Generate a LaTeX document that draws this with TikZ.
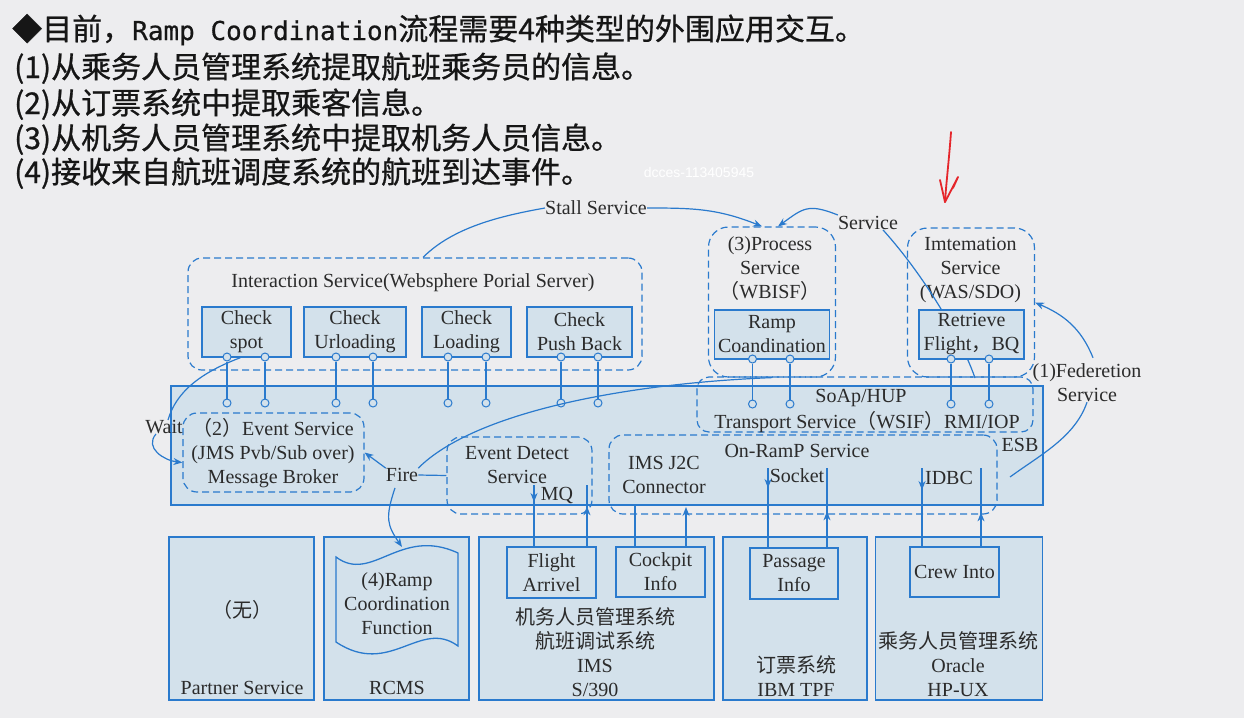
\documentclass[tikz,border=0pt]{standalone}
\usepackage{fontspec}
\setmainfont{Liberation Serif}
\newfontfamily\cjk{Noto Sans CJK SC}
\newfontfamily\cjkh{Noto Sans CJK SC}[FakeBold=0.8]
\newfontfamily\hmono{DejaVu Sans Mono}[FakeBold=0.6]
\newfontfamily\wmfont{Liberation Sans}
\usetikzlibrary{arrows.meta,decorations.markings}
\definecolor{bgc}{HTML}{EDEDEF}
\definecolor{fillc}{HTML}{D3E1EB}
\definecolor{linec}{HTML}{2A7ACD}
\definecolor{txt}{HTML}{2B2B2B}
\definecolor{hdr}{HTML}{161616}
\definecolor{redpen}{HTML}{E5262B}

\begin{document}
\begin{tikzpicture}[x=1pt,y=-1pt,
  every node/.style={text=txt, font=\fontsize{20}{24}\selectfont, inner sep=0pt, align=center},
  solidbox/.style={draw=linec, fill=fillc, line width=1.3pt},
  dashbox/.style={draw=linec, dash pattern=on 7pt off 4pt, line width=1.2pt, rounded corners=14pt},
  pinc/.style={circle, draw=linec, fill=fillc, line width=1pt, minimum size=8pt},
  conn/.style={color=linec, line width=1.2pt},
  arr/.style={conn, -{Stealth[length=9pt,width=7pt]}},
  tipat/.style={postaction={decorate, decoration={markings, mark=at position #1 with {\arrow{Stealth[length=9pt,width=7pt]}}}}},
  hdrline/.style={anchor=base west, text=hdr, font=\cjkh\fontsize{30}{34}\selectfont},
]
\useasboundingbox (0,0) rectangle (1244,718);
\fill[bgc] (0,0) rectangle (1244,718);

% heading lines
\node[hdrline] (h0) at (12,40) {◆目前，{\hmono\fontsize{26}{30}\selectfont Ramp Coordination}流程需要4种类型的外围应用交互。};
\node[hdrline] (h1) at (14,78) {(1)从乘务人员管理系统提取航班乘务员的信息。};
\node[hdrline] (h2) at (14,114) {(2)从订票系统中提取乘客信息。};
\node[hdrline] (h3) at (14,149) {(3)从机务人员管理系统中提取机务人员信息。};
\node[hdrline] (h4) at (14,183) {(4)接收来自航班调度系统的航班到达事件。};
\node[text=white, font=\wmfont\fontsize{14}{16}\selectfont] (wm) at (699,172) {dcces-113405945};

% hand-drawn red arrow
\draw[redpen, line width=1.8pt, line cap=round, line join=round] (951,132) .. controls (949,160) and (946,185) .. (945,202);
\draw[redpen, line width=1.8pt, line cap=round, line join=round] (940,180) -- (945,202) -- (958,177) -- (953,188);

% interaction service
\node[dashbox, minimum width=454pt, minimum height=112pt] (ints) at (415,314) {};
\node (intt) at (413,283) {Interaction Service(Websphere Porial Server)};

% ESB
\node[solidbox, minimum width=872pt, minimum height=119pt] (esb) at (607,445.5) {};
\node (esbl) at (1020,445) {ESB};

% dashed service groups inside / above the ESB
\node[dashbox, minimum width=336pt, minimum height=55pt, rounded corners=12pt] (soap) at (865,404.5) {};
\node (soapt) at (861,398) {SoAp/HUP};
\node (trans) at (867,422) {Transport Service{\cjk（}WSIF{\cjk）}RMI/IOP};

\node[dashbox, minimum width=181pt, minimum height=79pt] (evs) at (273.5,452.5) {};
\node (evst) at (273,453.5) {{\cjk（}2{\cjk）}Event Service\\(JMS Pvb/Sub over)\\Message Broker};

\node[dashbox, minimum width=145pt, minimum height=77pt] (evd) at (519.5,475.5) {};
\node (evdt) at (517,465) {Event Detect\\Service};
\node (mq) at (557,495) {MQ};

\node[dashbox, minimum width=388pt, minimum height=79pt] (onr) at (803,474.5) {};
\node (onrt) at (797,451) {On-RamP Service};
\node (j2c) at (664,475) {IMS J2C\\Connector};
\node (sock) at (797,476) {Socket};
\node (idbc) at (949,478) {IDBC};

% process and information services
\node[dashbox, minimum width=127pt, minimum height=150pt, rounded corners=20pt] (proc) at (772,302) {};
\node (proct) at (770,269) {(3)Process\\Service\\{\cjk（}WBISF{\cjk）}};
\node[dashbox, minimum width=127pt, minimum height=149pt, rounded corners=20pt] (imte) at (971,302.5) {};
\node (imtet) at (970.5,270) {Imtemation\\Service\\(WAS/SDO)};

% labels
\node (stall) at (596,208) {Stall Service};
\node (svc) at (868,223) {Service};
\node (fed) at (1087,383) {(1)Federetion\\Service};
\node (wait) at (164,427) {Wait};
\node (fire) at (402,475) {Fire};

\coordinate (svcend) at (975,378);
\draw[conn] ([xshift=15pt]svc.south) .. controls +(45,50) and +(-12,-35) .. (svcend);

% application boxes
\node[solidbox, minimum width=89pt, minimum height=50pt] (cspot) at (246.5,332) {Check\\spot};
\node[solidbox, minimum width=102pt, minimum height=50pt] (cunl) at (355,332) {Check\\Urloading};
\node[solidbox, minimum width=89pt, minimum height=50pt] (cload) at (466.5,332) {Check\\Loading};
\node[solidbox, minimum width=105pt, minimum height=50pt] (cpush) at (579.5,332) {Check\\Push Back};
\node[solidbox, minimum width=115pt, minimum height=49pt] (ramp) at (772,334.5) {Ramp\\Coandination};
\node[solidbox, minimum width=105pt, minimum height=49pt] (retr) at (971.5,334.5) {Retrieve\\Flight{\cjk，}BQ};

% ports into the bus
\foreach \x [count=\i] in {227,265,336,373,448,486,561,598} {
  \node[pinc] (pa\i) at (\x,357) {};
  \node[pinc] (pb\i) at (\x,403) {};
  \draw[conn] (pa\i) -- (pb\i);
}
\foreach \x [count=\i] in {752.5,790,951,989} {
  \node[pinc] (qa\i) at (\x,359) {};
  \node[pinc] (qb\i) at (\x,404) {};
  \draw[conn] (qa\i) -- (qb\i);
}

% back-end systems
\node[solidbox, minimum width=145pt, minimum height=163pt] (partner) at (241.5,618.5) {};
\node (wu) at (242,610) {\cjk（无）};
\node (partt) at (242,688) {Partner Service};

\node[solidbox, minimum width=145pt, minimum height=163pt] (rcms) at (396.5,618.5) {};
\node (rcmst) at (397,688) {RCMS};
\draw[solidbox] (336,557) .. controls (372,584) and (400,526) .. (458,553) -- (458,646)
  .. controls (420,618) and (390,678) .. (336,642) -- cycle;
\node (doct) at (397,603.5) {(4)Ramp\\Coordination\\Function};
\coordinate (doctop) at (402,547);

\node[solidbox, minimum width=235pt, minimum height=163pt] (ims) at (596.5,618.5) {};
\node (imst) at (595,652.5) {{\cjk 机务人员管理系统}\\{\cjk 航班调试系统}\\IMS\\S/390};
\node[solidbox, minimum width=144pt, minimum height=163pt] (tkt) at (795,618.5) {};
\node (tktt) at (796,676) {{\cjk 订票系统}\\IBM TPF};
\node[solidbox, minimum width=167.5pt, minimum height=163pt] (crew) at (959,618.5) {};
\node (crewt) at (958,664) {{\cjk 乘务人员管理系统}\\Oracle\\HP-UX};

\node[solidbox, minimum width=89pt, minimum height=51pt] (flt) at (551.5,572.5) {Flight\\Arrivel};
\node[solidbox, minimum width=89pt, minimum height=50pt] (ckp) at (660.5,572) {Cockpit\\Info};
\node[solidbox, minimum width=88pt, minimum height=51pt] (psg) at (794,573.5) {Passage\\Info};
\node[solidbox, minimum width=89pt, minimum height=50pt] (cin) at (954.5,572) {Crew Into};

% connectors
\draw[conn] ([xshift=8pt]ints.north) .. controls +(30,-30) and +(-45,8) .. (stall.west);
\draw[arr] (stall.east) .. controls +(45,0) and +(-45,-18) .. ([xshift=-10pt]proc.north);
\draw[arr] ([yshift=8pt]svc.west) .. controls +(-30,-12) and +(25,-18) .. ([xshift=6pt]proc.north);
\draw[arr] ([xshift=6pt,yshift=6pt]fed.north) .. controls +(-12,-30) and +(28,12) .. (imte.east);
\coordinate (fedend) at (1010,477);
\draw[conn] (fed.south) .. controls +(-12,35) and +(30,-22) .. (fedend);

\draw[conn] ([xshift=-6pt]cspot.south) .. controls +(-40,15) and +(8,-28) .. ([xshift=4pt]wait.north);
\draw[arr] ([xshift=-8pt]wait.south) .. controls +(-12,14) and +(-18,-2) .. ([yshift=-10pt]evs.west);

\draw[arr] (fire.north west) -- (evs.east);
\draw[conn] (fire.east) -- (evd.west);
\draw[conn] (fire.north east) .. controls +(55,-55) and +(-150,6) .. (proc.south);
\draw[arr] ([xshift=-7pt,yshift=-6pt]fire.south) .. controls +(-10,30) and +(-15,-22) .. (doctop);

\coordinate (mqd) at (534,485);
\draw[conn, tipat=17pt] (mqd) -- (mqd |- flt.north);
\coordinate (mqu) at (587,485);
\draw[conn, tipat=40pt] (mqu |- flt.north) -- (mqu);

\coordinate (j1) at (635,505);
\draw[conn] (j1 |- ckp.north) -- (j1);
\coordinate (j2) at (686,507);
\draw[arr] (j2 |- ckp.north) -- (j2);

\coordinate (sk1) at (768,468);
\draw[conn, tipat=20pt] (sk1) -- (sk1 |- psg.north);
\coordinate (sk2) at (827,468);
\draw[conn, tipat=36pt] (sk2 |- psg.north) -- (sk2);

\coordinate (id1) at (922,468);
\draw[conn, tipat=22pt] (id1) -- (id1 |- cin.north);
\coordinate (id2) at (981,468);
\draw[conn, tipat=34pt] (id2 |- cin.north) -- (id2);
\end{tikzpicture}
\end{document}
